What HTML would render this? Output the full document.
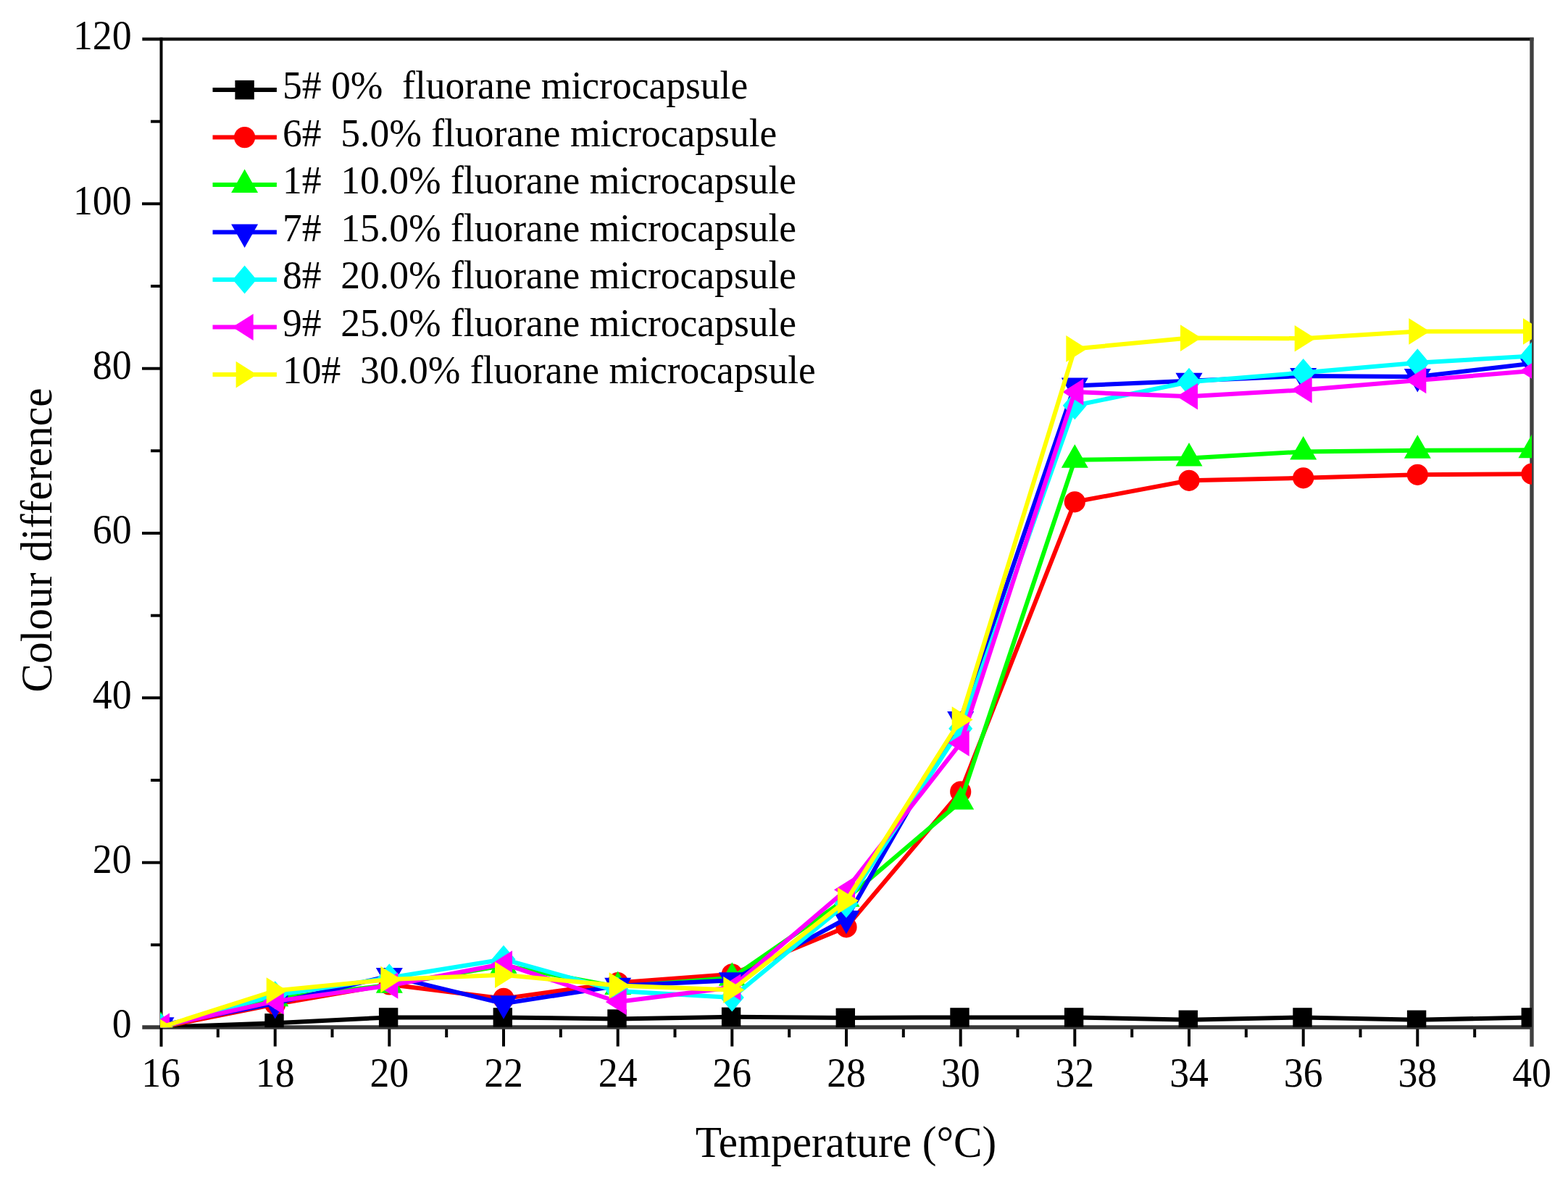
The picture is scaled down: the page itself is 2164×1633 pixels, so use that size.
<!DOCTYPE html>
<html><head><meta charset="utf-8"><title>Colour difference vs Temperature</title>
<style>
html,body{margin:0;padding:0;background:#fff;}
svg{display:block;}
text{font-family:"Liberation Serif","Times New Roman",serif;fill:#000;}
</style></head><body>
<svg width="2164" height="1633" viewBox="0 0 2164 1633">
<rect width="2164" height="1633" fill="#ffffff"/>
<defs><clipPath id="pa"><rect x="221" y="54" width="1893" height="1364.3"/></clipPath></defs>

<g stroke-linecap="butt" fill="none">
<line x1="208" y1="1304.3" x2="222" y2="1304.3" stroke="#000" stroke-width="4.0"/>
<line x1="196" y1="1190.7" x2="222" y2="1190.7" stroke="#000" stroke-width="4.0"/>
<line x1="208" y1="1077" x2="222" y2="1077" stroke="#000" stroke-width="4.0"/>
<line x1="196" y1="963.3" x2="222" y2="963.3" stroke="#000" stroke-width="4.0"/>
<line x1="208" y1="849.7" x2="222" y2="849.7" stroke="#000" stroke-width="4.0"/>
<line x1="196" y1="736" x2="222" y2="736" stroke="#000" stroke-width="4.0"/>
<line x1="208" y1="622.3" x2="222" y2="622.3" stroke="#000" stroke-width="4.0"/>
<line x1="196" y1="508.7" x2="222" y2="508.7" stroke="#000" stroke-width="4.0"/>
<line x1="208" y1="395" x2="222" y2="395" stroke="#000" stroke-width="4.0"/>
<line x1="196" y1="281.3" x2="222" y2="281.3" stroke="#000" stroke-width="4.0"/>
<line x1="208" y1="167.7" x2="222" y2="167.7" stroke="#000" stroke-width="4.0"/>
<line x1="300.8" y1="1418" x2="300.8" y2="1432" stroke="#000" stroke-width="4.0"/>
<line x1="379.7" y1="1418" x2="379.7" y2="1444.5" stroke="#000" stroke-width="4.0"/>
<line x1="458.5" y1="1418" x2="458.5" y2="1432" stroke="#000" stroke-width="4.0"/>
<line x1="537.3" y1="1418" x2="537.3" y2="1444.5" stroke="#000" stroke-width="4.0"/>
<line x1="616.2" y1="1418" x2="616.2" y2="1432" stroke="#000" stroke-width="4.0"/>
<line x1="695" y1="1418" x2="695" y2="1444.5" stroke="#000" stroke-width="4.0"/>
<line x1="773.8" y1="1418" x2="773.8" y2="1432" stroke="#000" stroke-width="4.0"/>
<line x1="852.7" y1="1418" x2="852.7" y2="1444.5" stroke="#000" stroke-width="4.0"/>
<line x1="931.5" y1="1418" x2="931.5" y2="1432" stroke="#000" stroke-width="4.0"/>
<line x1="1010.3" y1="1418" x2="1010.3" y2="1444.5" stroke="#000" stroke-width="4.0"/>
<line x1="1089.2" y1="1418" x2="1089.2" y2="1432" stroke="#000" stroke-width="4.0"/>
<line x1="1168" y1="1418" x2="1168" y2="1444.5" stroke="#000" stroke-width="4.0"/>
<line x1="1246.8" y1="1418" x2="1246.8" y2="1432" stroke="#000" stroke-width="4.0"/>
<line x1="1325.7" y1="1418" x2="1325.7" y2="1444.5" stroke="#000" stroke-width="4.0"/>
<line x1="1404.5" y1="1418" x2="1404.5" y2="1432" stroke="#000" stroke-width="4.0"/>
<line x1="1483.3" y1="1418" x2="1483.3" y2="1444.5" stroke="#000" stroke-width="4.0"/>
<line x1="1562.2" y1="1418" x2="1562.2" y2="1432" stroke="#000" stroke-width="4.0"/>
<line x1="1641" y1="1418" x2="1641" y2="1444.5" stroke="#000" stroke-width="4.0"/>
<line x1="1719.8" y1="1418" x2="1719.8" y2="1432" stroke="#000" stroke-width="4.0"/>
<line x1="1798.7" y1="1418" x2="1798.7" y2="1444.5" stroke="#000" stroke-width="4.0"/>
<line x1="1877.5" y1="1418" x2="1877.5" y2="1432" stroke="#000" stroke-width="4.0"/>
<line x1="1956.3" y1="1418" x2="1956.3" y2="1444.5" stroke="#000" stroke-width="4.0"/>
<line x1="2035.2" y1="1418" x2="2035.2" y2="1432" stroke="#000" stroke-width="4.0"/>
<line x1="196.3" y1="54" x2="2116.5" y2="54" stroke="#141414" stroke-width="4.6"/>
<line x1="196.3" y1="1417.9" x2="2114" y2="1417.9" stroke="#383838" stroke-width="5.5"/>
<line x1="2114" y1="51.7" x2="2114" y2="1444.7" stroke="#404040" stroke-width="5.4"/>
<line x1="222.5" y1="51.7" x2="222.5" y2="1444.7" stroke="#000" stroke-width="4.0"/>
</g>
<g clip-path="url(#pa)">
<polyline points="222,1418 379.7,1412.3 537.3,1404.4 695,1404.4 852.7,1406.6 1010.3,1403.8 1168,1404.9 1325.7,1404.4 1483.3,1404.4 1641,1407.8 1798.7,1404.4 1956.3,1407.8 2114,1404.4" fill="none" stroke="#000000" stroke-width="6.0" stroke-linejoin="round"/>
<rect x="207.6" y="1404.8" width="26.4" height="26.4" fill="#000000"/>
<rect x="365.3" y="1399.1" width="26.4" height="26.4" fill="#000000"/>
<rect x="522.9" y="1391.2" width="26.4" height="26.4" fill="#000000"/>
<rect x="680.6" y="1391.2" width="26.4" height="26.4" fill="#000000"/>
<rect x="838.3" y="1393.4" width="26.4" height="26.4" fill="#000000"/>
<rect x="995.9" y="1390.6" width="26.4" height="26.4" fill="#000000"/>
<rect x="1153.6" y="1391.7" width="26.4" height="26.4" fill="#000000"/>
<rect x="1311.3" y="1391.2" width="26.4" height="26.4" fill="#000000"/>
<rect x="1468.9" y="1391.2" width="26.4" height="26.4" fill="#000000"/>
<rect x="1626.6" y="1394.6" width="26.4" height="26.4" fill="#000000"/>
<rect x="1784.3" y="1391.2" width="26.4" height="26.4" fill="#000000"/>
<rect x="1941.9" y="1394.6" width="26.4" height="26.4" fill="#000000"/>
<rect x="2099.6" y="1391.2" width="26.4" height="26.4" fill="#000000"/>
<polyline points="222,1418 379.7,1386.2 537.3,1358.9 695,1378.4 852.7,1356.6 1010.3,1344.8 1168,1279.8 1325.7,1092.9 1483.3,692.8 1641,663.3 1798.7,659.8 1956.3,655.3 2114,654.2" fill="none" stroke="#ff0000" stroke-width="6.0" stroke-linejoin="round"/>
<circle cx="222" cy="1418" r="14.6" fill="#ff0000"/>
<circle cx="379.7" cy="1386.2" r="14.6" fill="#ff0000"/>
<circle cx="537.3" cy="1358.9" r="14.6" fill="#ff0000"/>
<circle cx="695" cy="1378.4" r="14.6" fill="#ff0000"/>
<circle cx="852.7" cy="1356.6" r="14.6" fill="#ff0000"/>
<circle cx="1010.3" cy="1344.8" r="14.6" fill="#ff0000"/>
<circle cx="1168" cy="1279.8" r="14.6" fill="#ff0000"/>
<circle cx="1325.7" cy="1092.9" r="14.6" fill="#ff0000"/>
<circle cx="1483.3" cy="692.8" r="14.6" fill="#ff0000"/>
<circle cx="1641" cy="663.3" r="14.6" fill="#ff0000"/>
<circle cx="1798.7" cy="659.8" r="14.6" fill="#ff0000"/>
<circle cx="1956.3" cy="655.3" r="14.6" fill="#ff0000"/>
<circle cx="2114" cy="654.2" r="14.6" fill="#ff0000"/>
<polyline points="222,1418 379.7,1378.2 537.3,1359.8 695,1332.8 852.7,1362.1 1010.3,1349.8 1168,1240.7 1325.7,1106.6 1483.3,634.8 1641,632.6 1798.7,623.5 1956.3,621.7 2114,621.2" fill="none" stroke="#00ff00" stroke-width="6.0" stroke-linejoin="round"/>
<path d="M222 1396.5 L240.5 1429 L203.5 1429Z" fill="#00ff00"/>
<path d="M379.7 1356.7 L398.2 1389.2 L361.2 1389.2Z" fill="#00ff00"/>
<path d="M537.3 1338.3 L555.8 1370.8 L518.8 1370.8Z" fill="#00ff00"/>
<path d="M695 1311.2 L713.5 1343.8 L676.5 1343.8Z" fill="#00ff00"/>
<path d="M852.7 1340.6 L871.2 1373.1 L834.2 1373.1Z" fill="#00ff00"/>
<path d="M1010.3 1328.3 L1028.8 1360.8 L991.8 1360.8Z" fill="#00ff00"/>
<path d="M1168 1219.2 L1186.5 1251.7 L1149.5 1251.7Z" fill="#00ff00"/>
<path d="M1325.7 1085.1 L1344.2 1117.6 L1307.2 1117.6Z" fill="#00ff00"/>
<path d="M1483.3 613.3 L1501.8 645.8 L1464.8 645.8Z" fill="#00ff00"/>
<path d="M1641 611.1 L1659.5 643.6 L1622.5 643.6Z" fill="#00ff00"/>
<path d="M1798.7 602 L1817.2 634.5 L1780.2 634.5Z" fill="#00ff00"/>
<path d="M1956.3 600.2 L1974.8 632.7 L1937.8 632.7Z" fill="#00ff00"/>
<path d="M2114 599.7 L2132.5 632.2 L2095.5 632.2Z" fill="#00ff00"/>
<polyline points="222,1415.2 379.7,1385 537.3,1347.1 695,1385.3 852.7,1360.7 1010.3,1353.2 1168,1268 1325.7,992.9 1483.3,532.5 1641,525.7 1798.7,518.9 1956.3,520 2114,501.8" fill="none" stroke="#0000ff" stroke-width="6.0" stroke-linejoin="round"/>
<path d="M222 1436.7 L240.5 1404.2 L203.5 1404.2Z" fill="#0000ff"/>
<path d="M379.7 1406.5 L398.2 1374 L361.2 1374Z" fill="#0000ff"/>
<path d="M537.3 1368.6 L555.8 1336.1 L518.8 1336.1Z" fill="#0000ff"/>
<path d="M695 1406.8 L713.5 1374.3 L676.5 1374.3Z" fill="#0000ff"/>
<path d="M852.7 1382.2 L871.2 1349.7 L834.2 1349.7Z" fill="#0000ff"/>
<path d="M1010.3 1374.7 L1028.8 1342.2 L991.8 1342.2Z" fill="#0000ff"/>
<path d="M1168 1289.5 L1186.5 1257 L1149.5 1257Z" fill="#0000ff"/>
<path d="M1325.7 1014.4 L1344.2 981.9 L1307.2 981.9Z" fill="#0000ff"/>
<path d="M1483.3 554 L1501.8 521.5 L1464.8 521.5Z" fill="#0000ff"/>
<path d="M1641 547.2 L1659.5 514.7 L1622.5 514.7Z" fill="#0000ff"/>
<path d="M1798.7 540.4 L1817.2 507.9 L1780.2 507.9Z" fill="#0000ff"/>
<path d="M1956.3 541.5 L1974.8 509 L1937.8 509Z" fill="#0000ff"/>
<path d="M2114 523.3 L2132.5 490.8 L2095.5 490.8Z" fill="#0000ff"/>
<polyline points="222,1418 379.7,1373.7 537.3,1349.8 695,1324.2 852.7,1368 1010.3,1377.1 1168,1247.5 1325.7,1005.8 1483.3,559.8 1641,527.3 1798.7,514.4 1956.3,500.7 2114,491.6" fill="none" stroke="#00ffff" stroke-width="6.0" stroke-linejoin="round"/>
<path d="M222 1398.5 L238.5 1418 L222 1437.5 L205.5 1418Z" fill="#00ffff"/>
<path d="M379.7 1354.2 L396.2 1373.7 L379.7 1393.2 L363.2 1373.7Z" fill="#00ffff"/>
<path d="M537.3 1330.3 L553.8 1349.8 L537.3 1369.3 L520.8 1349.8Z" fill="#00ffff"/>
<path d="M695 1304.7 L711.5 1324.2 L695 1343.7 L678.5 1324.2Z" fill="#00ffff"/>
<path d="M852.7 1348.5 L869.2 1368 L852.7 1387.5 L836.2 1368Z" fill="#00ffff"/>
<path d="M1010.3 1357.6 L1026.8 1377.1 L1010.3 1396.6 L993.8 1377.1Z" fill="#00ffff"/>
<path d="M1168 1228 L1184.5 1247.5 L1168 1267 L1151.5 1247.5Z" fill="#00ffff"/>
<path d="M1325.7 986.3 L1342.2 1005.8 L1325.7 1025.3 L1309.2 1005.8Z" fill="#00ffff"/>
<path d="M1483.3 540.3 L1499.8 559.8 L1483.3 579.3 L1466.8 559.8Z" fill="#00ffff"/>
<path d="M1641 507.8 L1657.5 527.3 L1641 546.8 L1624.5 527.3Z" fill="#00ffff"/>
<path d="M1798.7 494.9 L1815.2 514.4 L1798.7 533.9 L1782.2 514.4Z" fill="#00ffff"/>
<path d="M1956.3 481.2 L1972.8 500.7 L1956.3 520.2 L1939.8 500.7Z" fill="#00ffff"/>
<path d="M2114 472.1 L2130.5 491.6 L2114 511.1 L2097.5 491.6Z" fill="#00ffff"/>
<polyline points="222,1416.9 379.7,1382.1 537.3,1360.5 695,1330.5 852.7,1383 1010.3,1362.9 1168,1228.2 1325.7,1025.8 1483.3,541.1 1641,547.3 1798.7,538.2 1956.3,525 2114,512.1" fill="none" stroke="#ff00ff" stroke-width="6.0" stroke-linejoin="round"/>
<path d="M205 1416.9 L234 1398.6 L234 1435.2Z" fill="#ff00ff"/>
<path d="M362.7 1382.1 L391.7 1363.8 L391.7 1400.4Z" fill="#ff00ff"/>
<path d="M520.3 1360.5 L549.3 1342.2 L549.3 1378.8Z" fill="#ff00ff"/>
<path d="M678 1330.5 L707 1312.2 L707 1348.8Z" fill="#ff00ff"/>
<path d="M835.7 1383 L864.7 1364.7 L864.7 1401.3Z" fill="#ff00ff"/>
<path d="M993.3 1362.9 L1022.3 1344.6 L1022.3 1381.2Z" fill="#ff00ff"/>
<path d="M1151 1228.2 L1180 1209.9 L1180 1246.5Z" fill="#ff00ff"/>
<path d="M1308.7 1025.8 L1337.7 1007.5 L1337.7 1044.1Z" fill="#ff00ff"/>
<path d="M1466.3 541.1 L1495.3 522.8 L1495.3 559.4Z" fill="#ff00ff"/>
<path d="M1624 547.3 L1653 529 L1653 565.6Z" fill="#ff00ff"/>
<path d="M1781.7 538.2 L1810.7 519.9 L1810.7 556.5Z" fill="#ff00ff"/>
<path d="M1939.3 525 L1968.3 506.7 L1968.3 543.3Z" fill="#ff00ff"/>
<path d="M2097 512.1 L2126 493.8 L2126 530.4Z" fill="#ff00ff"/>
<polyline points="222,1418 379.7,1367.5 537.3,1352.1 695,1345.8 852.7,1360.5 1010.3,1366.4 1168,1243.3 1325.7,993.5 1483.3,481.4 1641,466.6 1798.7,467.2 1956.3,457.5 2114,457.5" fill="none" stroke="#ffff00" stroke-width="6.0" stroke-linejoin="round"/>
<path d="M239 1418 L210 1399.7 L210 1436.3Z" fill="#ffff00"/>
<path d="M396.7 1367.5 L367.7 1349.2 L367.7 1385.8Z" fill="#ffff00"/>
<path d="M554.3 1352.1 L525.3 1333.8 L525.3 1370.4Z" fill="#ffff00"/>
<path d="M712 1345.8 L683 1327.5 L683 1364.1Z" fill="#ffff00"/>
<path d="M869.7 1360.5 L840.7 1342.2 L840.7 1378.8Z" fill="#ffff00"/>
<path d="M1027.3 1366.4 L998.3 1348.1 L998.3 1384.7Z" fill="#ffff00"/>
<path d="M1185 1243.3 L1156 1225 L1156 1261.6Z" fill="#ffff00"/>
<path d="M1342.7 993.5 L1313.7 975.2 L1313.7 1011.8Z" fill="#ffff00"/>
<path d="M1500.3 481.4 L1471.3 463.1 L1471.3 499.7Z" fill="#ffff00"/>
<path d="M1658 466.6 L1629 448.3 L1629 484.9Z" fill="#ffff00"/>
<path d="M1815.7 467.2 L1786.7 448.9 L1786.7 485.5Z" fill="#ffff00"/>
<path d="M1973.3 457.5 L1944.3 439.2 L1944.3 475.8Z" fill="#ffff00"/>
<path d="M2131 457.5 L2102 439.2 L2102 475.8Z" fill="#ffff00"/>
</g>
<text transform="translate(181.5 1432.3) scale(0.96 1)" text-anchor="end" font-size="56">0</text>
<text transform="translate(181.5 1205) scale(0.96 1)" text-anchor="end" font-size="56">20</text>
<text transform="translate(181.5 977.6) scale(0.96 1)" text-anchor="end" font-size="56">40</text>
<text transform="translate(181.5 750.3) scale(0.96 1)" text-anchor="end" font-size="56">60</text>
<text transform="translate(181.5 523) scale(0.96 1)" text-anchor="end" font-size="56">80</text>
<text transform="translate(181.5 295.6) scale(0.96 1)" text-anchor="end" font-size="56">100</text>
<text transform="translate(181.5 68.3) scale(0.96 1)" text-anchor="end" font-size="56">120</text>
<text transform="translate(222 1500) scale(0.96 1)" text-anchor="middle" font-size="56">16</text>
<text transform="translate(379.7 1500) scale(0.96 1)" text-anchor="middle" font-size="56">18</text>
<text transform="translate(537.3 1500) scale(0.96 1)" text-anchor="middle" font-size="56">20</text>
<text transform="translate(695 1500) scale(0.96 1)" text-anchor="middle" font-size="56">22</text>
<text transform="translate(852.7 1500) scale(0.96 1)" text-anchor="middle" font-size="56">24</text>
<text transform="translate(1010.3 1500) scale(0.96 1)" text-anchor="middle" font-size="56">26</text>
<text transform="translate(1168 1500) scale(0.96 1)" text-anchor="middle" font-size="56">28</text>
<text transform="translate(1325.7 1500) scale(0.96 1)" text-anchor="middle" font-size="56">30</text>
<text transform="translate(1483.3 1500) scale(0.96 1)" text-anchor="middle" font-size="56">32</text>
<text transform="translate(1641 1500) scale(0.96 1)" text-anchor="middle" font-size="56">34</text>
<text transform="translate(1798.7 1500) scale(0.96 1)" text-anchor="middle" font-size="56">36</text>
<text transform="translate(1956.3 1500) scale(0.96 1)" text-anchor="middle" font-size="56">38</text>
<text transform="translate(2114 1500) scale(0.96 1)" text-anchor="middle" font-size="56">40</text>
<text transform="translate(1167.5 1597) scale(0.955 1)" text-anchor="middle" font-size="62">Temperature (°C)</text>
<text transform="translate(71 745.5) rotate(-90) scale(0.96 1)" text-anchor="middle" font-size="62">Colour difference</text>
<line x1="293.5" y1="124.1" x2="381.9" y2="124.1" stroke="#000000" stroke-width="6.0"/>
<rect x="324.4" y="110.9" width="26.4" height="26.4" fill="#000000"/>
<text transform="translate(390 136.1) scale(0.965 1)" font-size="55.5" style="white-space:pre">5# 0%  fluorane microcapsule</text>
<line x1="293.5" y1="189.6" x2="381.9" y2="189.6" stroke="#ff0000" stroke-width="6.0"/>
<circle cx="337.6" cy="189.6" r="14.6" fill="#ff0000"/>
<text transform="translate(390 201.6) scale(0.965 1)" font-size="55.5" style="white-space:pre">6#  5.0% fluorane microcapsule</text>
<line x1="293.5" y1="255.1" x2="381.9" y2="255.1" stroke="#00ff00" stroke-width="6.0"/>
<path d="M337.6 233.6 L356.1 266.1 L319.1 266.1Z" fill="#00ff00"/>
<text transform="translate(390 267.1) scale(0.965 1)" font-size="55.5" style="white-space:pre">1#  10.0% fluorane microcapsule</text>
<line x1="293.5" y1="320.6" x2="381.9" y2="320.6" stroke="#0000ff" stroke-width="6.0"/>
<path d="M337.6 342.1 L356.1 309.6 L319.1 309.6Z" fill="#0000ff"/>
<text transform="translate(390 332.6) scale(0.965 1)" font-size="55.5" style="white-space:pre">7#  15.0% fluorane microcapsule</text>
<line x1="293.5" y1="386.1" x2="381.9" y2="386.1" stroke="#00ffff" stroke-width="6.0"/>
<path d="M337.6 366.6 L354.1 386.1 L337.6 405.6 L321.1 386.1Z" fill="#00ffff"/>
<text transform="translate(390 398.1) scale(0.965 1)" font-size="55.5" style="white-space:pre">8#  20.0% fluorane microcapsule</text>
<line x1="293.5" y1="451.6" x2="381.9" y2="451.6" stroke="#ff00ff" stroke-width="6.0"/>
<path d="M320.6 451.6 L349.6 433.3 L349.6 469.9Z" fill="#ff00ff"/>
<text transform="translate(390 463.6) scale(0.965 1)" font-size="55.5" style="white-space:pre">9#  25.0% fluorane microcapsule</text>
<line x1="293.5" y1="517.1" x2="381.9" y2="517.1" stroke="#ffff00" stroke-width="6.0"/>
<path d="M354.6 517.1 L325.6 498.8 L325.6 535.4Z" fill="#ffff00"/>
<text transform="translate(390 529.1) scale(0.965 1)" font-size="55.5" style="white-space:pre">10#  30.0% fluorane microcapsule</text>
</svg></body></html>
